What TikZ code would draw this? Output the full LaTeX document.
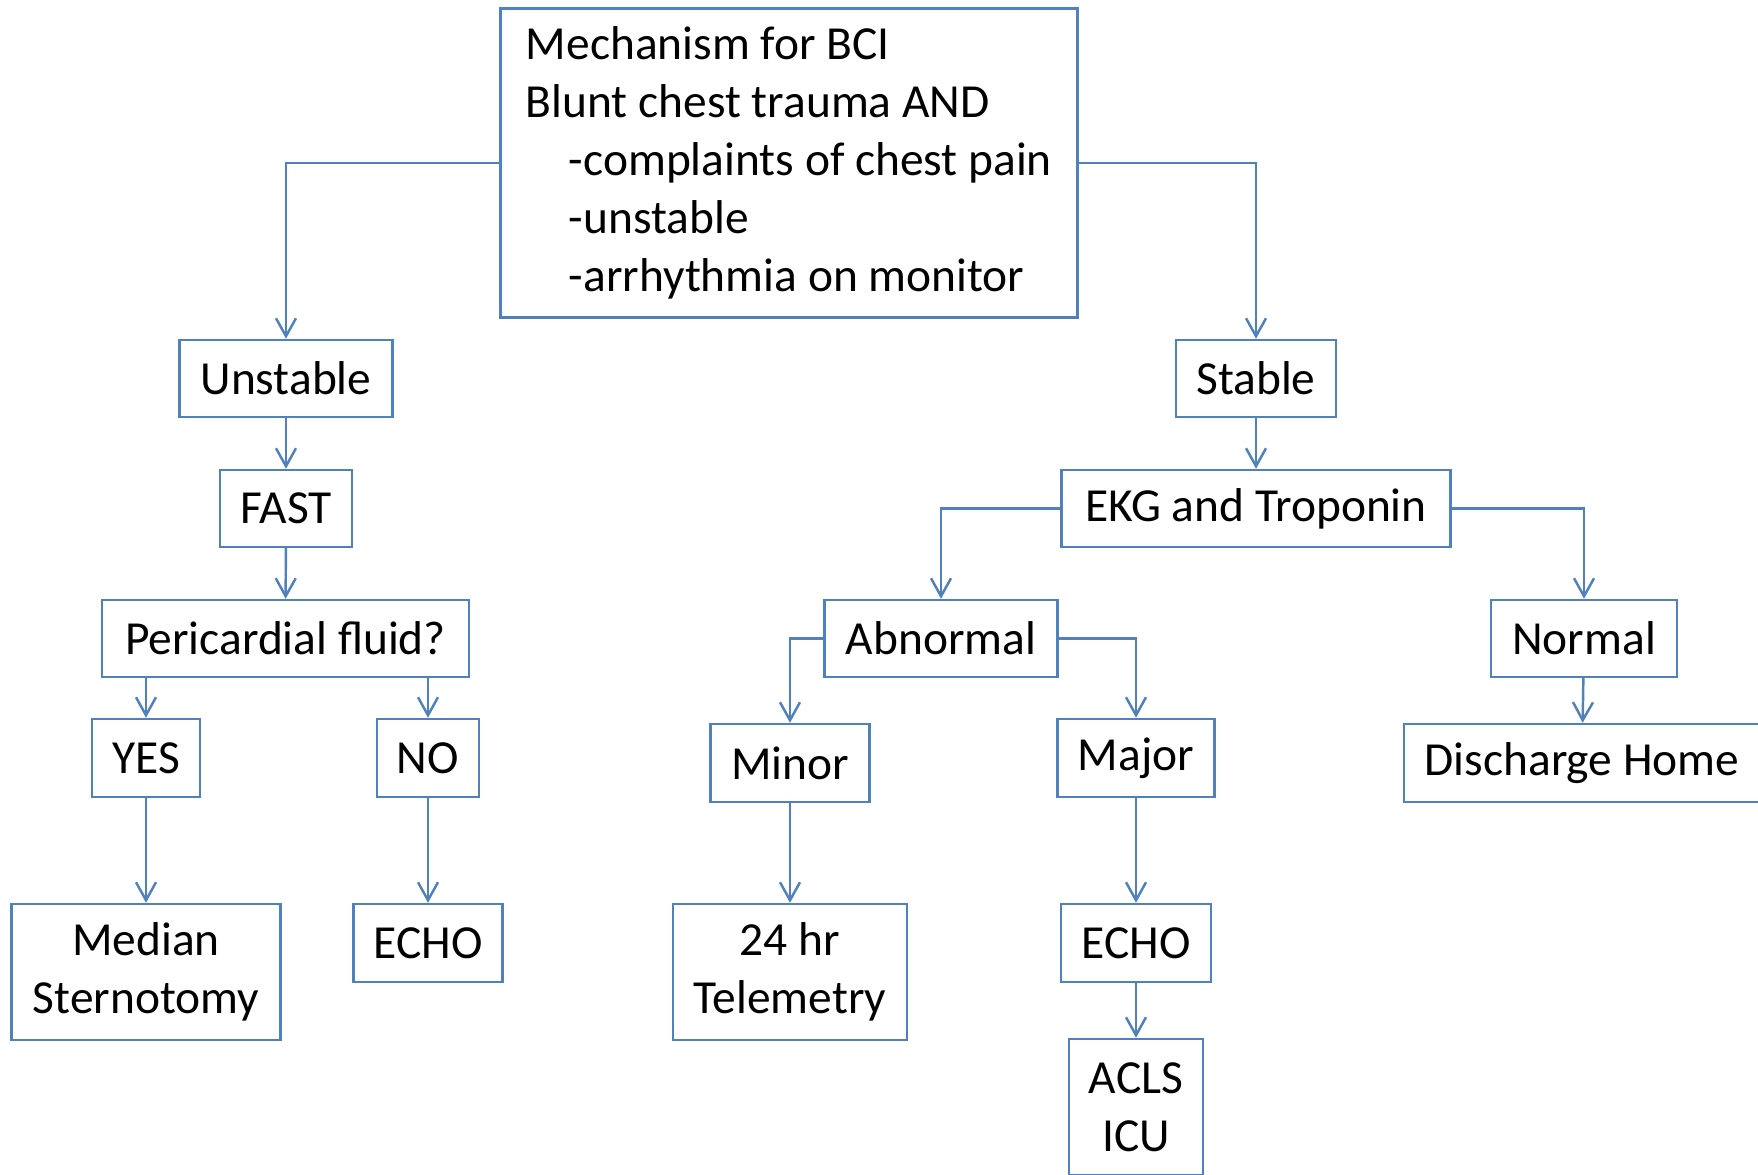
\documentclass[tikz,border=0pt]{standalone}
\usepackage{fontspec}
\setmainfont{Carlito}
\usetikzlibrary{arrows.meta}
\definecolor{flowblue}{HTML}{4F81BD}
\tikzstyle{stepbox}=[rectangle, draw=flowblue, line width=1.4pt, inner sep=0pt, align=center, anchor=center, font=\fontsize{27}{33}\selectfont]
\tikzstyle{link}=[draw=flowblue, line width=1.4pt, -{Straight Barb[length=0.36cm,width=0.4cm]}]
\newcommand{\ind}{\hspace*{0.86cm}}

\begin{document}
\begin{tikzpicture}
	\useasboundingbox (0,0) rectangle (35.16,-23.5);

	% question at the top
	\node[stepbox, align=left, minimum width=11.54cm, minimum height=6.18cm](top) at (15.78,-3.26)
		{Mechanism for BCI\\Blunt chest trauma AND\\\ind-complaints of chest pain\\\ind-unstable\\\ind-arrhythmia on monitor};

	% unstable branch
	\node[stepbox, minimum width=4.26cm, minimum height=1.54cm](unstable) at (5.72,-7.57){Unstable};
	\node[stepbox, minimum width=2.64cm, minimum height=1.54cm](fast) at (5.72,-10.17){FAST};
	\node[stepbox, minimum width=7.34cm, minimum height=1.54cm](fluid) at (5.71,-12.77){Pericardial fluid?};
	\node[stepbox, minimum width=2.16cm, minimum height=1.56cm](yes) at (2.92,-15.16){YES};
	\node[stepbox, minimum width=2.04cm, minimum height=1.56cm](no) at (8.56,-15.16){NO};
	\node[stepbox, minimum width=5.38cm, minimum height=2.72cm](sternotomy) at (2.92,-19.44){Median\\Sternotomy};
	\node[stepbox, minimum width=2.98cm, minimum height=1.56cm](echoleft) at (8.56,-18.86){ECHO};

	% stable branch
	\node[stepbox, minimum width=3.2cm, minimum height=1.54cm](stable) at (25.12,-7.57){Stable};
	\node[stepbox, minimum width=7.78cm, minimum height=1.54cm](ekg) at (25.12,-10.17){EKG and Troponin};
	\node[stepbox, minimum width=4.66cm, minimum height=1.54cm](abnormal) at (18.82,-12.77){Abnormal};
	\node[stepbox, minimum width=3.72cm, minimum height=1.54cm](normal) at (31.68,-12.77){Normal};
	\node[stepbox, minimum width=3.18cm, minimum height=1.56cm](minor) at (15.8,-15.26){Minor};
	\node[stepbox, minimum width=3.14cm, minimum height=1.56cm](major) at (22.72,-15.16){Major};
	\node[stepbox, minimum width=7.12cm, minimum height=1.56cm](discharge) at (31.64,-15.26){Discharge Home};
	\node[stepbox, minimum width=4.68cm, minimum height=2.72cm](telemetry) at (15.8,-19.44){24 hr\\Telemetry};
	\node[stepbox, minimum width=3cm, minimum height=1.56cm](echoright) at (22.72,-18.86){ECHO};
	\node[stepbox, minimum width=2.68cm, minimum height=2.72cm](acls) at (22.72,-22.14){ACLS\\ICU};

	\draw[link] (top.west) -| (unstable.north);
	\draw[link] (top.east) -| (stable.north);
	\draw[link] (unstable) -- (fast);
	\draw[link] (fast) -- (fluid);
	\draw[link] (yes.north |- fluid.south) -- (yes.north);
	\draw[link] (no.north |- fluid.south) -- (no.north);
	\draw[link] (yes) -- (sternotomy);
	\draw[link] (no) -- (echoleft);

	\draw[link] (stable) -- (ekg);
	\draw[link] (ekg.west) -| (abnormal.north);
	\draw[link] (ekg.east) -| (normal.north);
	\draw[link] (abnormal.west) -| (minor.north);
	\draw[link] (abnormal.east) -| (major.north);
	\draw[link] (normal) -- (discharge);
	\draw[link] (minor) -- (telemetry);
	\draw[link] (major) -- (echoright);
	\draw[link] (echoright) -- (acls);

\end{tikzpicture}
\end{document}
